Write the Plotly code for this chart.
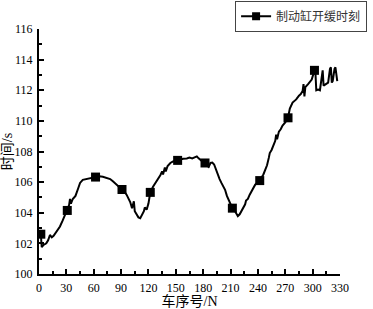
import plotly.graph_objects as go

car_no = [1, 2, 3, 5, 8, 10, 12, 14, 16, 19, 23, 26, 29, 31, 33, 34, 35, 37, 40, 43, 45, 48, 52, 56, 59, 62,
          66, 70, 74, 78, 81, 84, 88, 91, 94, 96, 98, 100, 102, 104, 105, 107, 109, 111, 113, 115, 116, 118,
          120, 122, 125, 129, 131, 133, 135, 136, 138, 139, 141, 144, 147, 150, 152, 155, 158, 162, 165, 168,
          171, 173, 175, 177, 180, 182, 184, 186, 188, 190, 192, 194, 196, 198, 200, 202, 204, 206, 208, 210,
          212, 214, 216, 218, 220, 222, 224, 226, 227, 229, 231, 234, 237, 240, 242, 244, 246, 248, 250, 252,
          253, 255, 257, 259, 260, 261, 263, 265, 267, 270, 273, 275, 278, 282, 285, 287, 289, 290, 291, 292,
          295, 299, 302, 303, 304, 306, 308, 310, 311, 312, 314, 317, 319, 320, 321, 322, 324, 325, 327]
release_time = [102.7, 102.6, 101.75, 101.9, 102.0, 102.2, 102.55, 102.4, 102.5, 102.75, 103.1, 103.5, 103.9,
                104.15, 104.5, 104.9, 104.6, 104.9, 105.1, 105.6, 105.95, 106.15, 106.2, 106.22, 106.3, 106.33,
                106.38, 106.35, 106.27, 106.2, 106.05, 105.9, 105.65, 105.52, 105.35, 105.18, 104.95, 104.7,
                104.3, 104.75, 104.1, 103.85, 103.7, 103.65, 103.85, 104.1, 104.35, 104.2, 104.6, 105.33,
                105.7, 106.05, 106.3, 106.45, 106.7, 106.5, 106.95, 106.7, 107.05, 107.25, 107.35, 107.4,
                107.42, 107.5, 107.53, 107.55, 107.6, 107.55, 107.62, 107.68, 107.55, 107.45, 107.35, 107.25,
                107.1, 107.0, 107.25, 107.28, 107.15, 106.8, 106.5, 106.2, 105.95, 105.75, 105.5, 105.1,
                104.85, 104.6, 104.3, 104.2, 103.95, 103.78, 103.9, 104.1, 104.3, 104.55, 104.8, 104.9,
                105.18, 105.5, 105.83, 106.0, 106.1, 106.3, 106.5, 106.8, 107.1, 107.6, 107.9, 108.1, 108.35,
                108.7, 109.1, 108.8, 109.3, 109.45, 109.7, 109.9, 110.2, 110.8, 111.2, 111.4, 111.65, 111.75,
                111.95, 112.4, 111.6, 112.2, 112.4, 112.7, 113.3, 113.25, 112.0, 112.05, 112.0, 112.8, 113.3,
                112.3, 112.4, 112.5, 113.4, 113.5, 112.5, 112.6, 113.4, 113.5, 112.6]
marker_cars = [2, 31, 62, 91, 122, 152, 182, 212, 242, 273, 302]
series_name = "制动缸开缓时刻"
x_ticks = [0, 30, 60, 90, 120, 150, 180, 210, 240, 270, 300, 330]
y_ticks = [100, 102, 104, 106, 108, 110, 112, 114, 116]

lookup = dict(zip(car_no, release_time))
marker_y = [lookup[c] for c in marker_cars]

FONT = "Liberation Serif, Times New Roman, Noto Sans CJK SC, serif"

fig = go.Figure()
fig.add_trace(go.Scatter(x=car_no, y=release_time, mode="lines",
                         line=dict(color="black", width=2), showlegend=False))
fig.add_trace(go.Scatter(x=marker_cars, y=marker_y, mode="markers",
                         marker=dict(symbol="square", size=9, color="black"), showlegend=False))
fig.add_trace(go.Scatter(x=[None], y=[None], mode="lines+markers", name=series_name,
                         line=dict(color="black", width=2),
                         marker=dict(symbol="square", size=8, color="black")))

axis_common = dict(showline=True, linecolor="black", linewidth=2, ticks="inside",
                   ticklen=5, tickwidth=2, tickcolor="black", showgrid=False, zeroline=False,
                   mirror=False, automargin=False,
                   tickfont=dict(family=FONT, size=12, color="black"))

fig.update_xaxes(range=[0, 330], tickvals=x_ticks, ticklabelstandoff=2,
                 minor=dict(ticks="inside", ticklen=3, tickwidth=1.5, tickcolor="black", dtick=15, tick0=0),
                 title=dict(text="车序号/N", font=dict(family=FONT, size=14, color="black")),
                 **axis_common)
fig.update_yaxes(range=[100, 116], tickvals=y_ticks, ticklabelstandoff=2,
                 minor=dict(ticks="inside", ticklen=3, tickwidth=1.5, tickcolor="black", dtick=1, tick0=100),
                 title=dict(text="时间/s", font=dict(family=FONT, size=14, color="black")),
                 **axis_common)

fig.update_layout(
    width=373, height=309,
    margin=dict(l=39, r=33, t=29, b=35, autoexpand=False),
    paper_bgcolor="white", plot_bgcolor="white",
    legend=dict(x=1.09, xanchor="right", y=1.115, yanchor="top",
                bordercolor="#444", borderwidth=1, bgcolor="white",
                font=dict(family=FONT, size=12, color="#333"),
                itemwidth=30, tracegroupgap=0),
)

fig.write_html("out.html", config={"displayModeBar": False},
               post_script="document.body.style.margin='0';")
